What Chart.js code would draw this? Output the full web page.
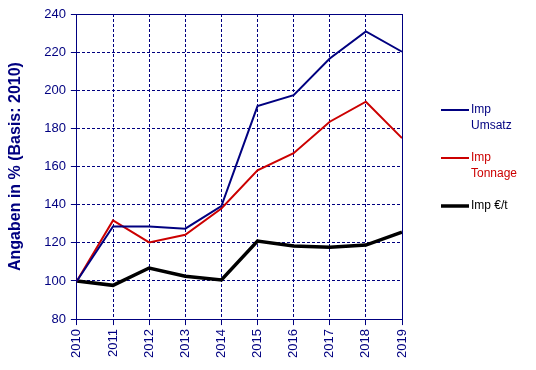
<!DOCTYPE html>
<html>
<head>
<meta charset="utf-8">
<script src="https://cdn.jsdelivr.net/npm/chart.js@4/dist/chart.umd.min.js"></script>
<style>
  html, body { margin: 0; padding: 0; background: #fff; }
  #wrap { width: 536px; height: 370px; position: relative; }
</style>
</head>
<body>
<div id="wrap"><canvas id="chart"></canvas></div>
<script>
const years = ['2010', '2011', '2012', '2013', '2014', '2015', '2016', '2017', '2018', '2019'];
const impUmsatz = [100, 128.6, 128.5, 127.4, 139.3, 191.7, 197.4, 216.7, 230.9, 220.2];
const impTonnage = [100, 131.7, 120.2, 124.2, 138.0, 158.0, 167.0, 183.5, 194.0, 174.9];
const impEuroT = [100, 97.7, 106.8, 102.5, 100.5, 120.9, 118.3, 117.7, 118.8, 125.6];

const navy = '#000080';

// Rahmen oben/rechts + Legende rechts
const framePlugin = {
  id: 'frame',
  afterDraw(chart) {
    const { ctx, chartArea: a } = chart;
    ctx.save();
    ctx.strokeStyle = navy;
    ctx.lineWidth = 1;
    ctx.beginPath();
    ctx.moveTo(a.left, a.top + 0.5);
    ctx.lineTo(a.right + 0.5, a.top + 0.5);
    ctx.lineTo(a.right + 0.5, a.bottom);
    ctx.stroke();

    const rows = [110, 158, 206];
    ctx.font = '12px "Liberation Sans", Arial, sans-serif';
    ctx.textBaseline = 'middle';
    chart.data.datasets.forEach((ds, i) => {
      const y = rows[i];
      ctx.strokeStyle = ds.borderColor;
      ctx.lineWidth = ds.borderWidth;
      ctx.beginPath();
      ctx.moveTo(441, y);
      ctx.lineTo(469, y);
      ctx.stroke();
      ctx.fillStyle = ds.borderColor;
      const lines = Array.isArray(ds.label) ? ds.label : [ds.label];
      lines.forEach((t, j) => ctx.fillText(t, 471, y + j * 16));
    });
    ctx.restore();
  }
};

new Chart(document.getElementById('chart'), {
  type: 'line',
  data: {
    labels: years,
    datasets: [
      { label: ['Imp', 'Umsatz'], data: impUmsatz, borderColor: navy, borderWidth: 2, pointRadius: 0, tension: 0 },
      { label: ['Imp', 'Tonnage'], data: impTonnage, borderColor: '#cc0000', borderWidth: 2, pointRadius: 0, tension: 0 },
      { label: 'Imp €/t', data: impEuroT, borderColor: '#000000', borderWidth: 3.5, pointRadius: 0, tension: 0 }
    ]
  },
  options: {
    responsive: true,
    maintainAspectRatio: false,
    animation: false,
    layout: { padding: { top: 14, right: 134, bottom: 8, left: 6 } },
    plugins: {
      legend: { display: false },
      tooltip: { enabled: false }
    },
    scales: {
      x: {
        offset: false,
        grid: { color: navy, lineWidth: 1, tickLength: 6, tickColor: navy },
        border: { color: navy, width: 1, dash: [3, 2] },
        ticks: {
          color: navy,
          font: { family: '"Liberation Sans", Arial, sans-serif', size: 13 },
          maxRotation: 90, minRotation: 90, padding: 4
        }
      },
      y: {
        min: 80,
        max: 240,
        grid: { color: navy, lineWidth: 1, tickLength: 6, tickColor: navy },
        border: { color: navy, width: 1, dash: [3, 2] },
        ticks: {
          stepSize: 20,
          color: navy,
          font: { family: '"Liberation Sans", Arial, sans-serif', size: 13 },
          padding: 5
        },
        title: {
          display: true,
          text: 'Angaben in % (Basis: 2010)',
          color: navy,
          font: { family: '"Liberation Sans", Arial, sans-serif', size: 16, weight: 'bold' },
          padding: { top: 0, bottom: 14 }
        }
      }
    }
  },
  plugins: [framePlugin]
});
</script>
</body>
</html>
